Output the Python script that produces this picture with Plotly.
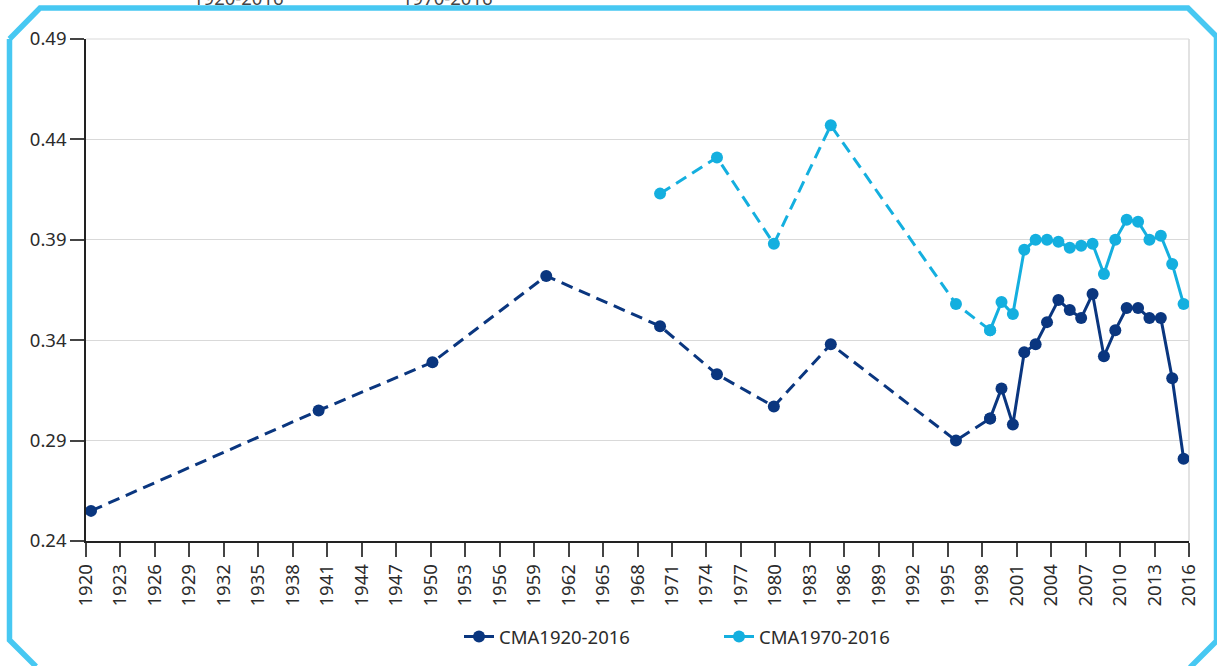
import numpy as np
import plotly.graph_objects as go

# ---- data ----
years_dark = [1920, 1940, 1950, 1960, 1970, 1975, 1980, 1985, 1996, 1999, 2000, 2001, 2002,
              2003, 2004, 2005, 2006, 2007, 2008, 2009, 2010, 2011, 2012, 2013, 2014, 2015, 2016]
cma_1920_2016 = [0.255, 0.305, 0.329, 0.372, 0.347, 0.323, 0.307, 0.338, 0.290, 0.301, 0.316,
                 0.298, 0.334, 0.338, 0.349, 0.360, 0.355, 0.351, 0.363, 0.332, 0.345, 0.356,
                 0.356, 0.351, 0.351, 0.321, 0.281]
years_light = [1970, 1975, 1980, 1985, 1996, 1999, 2000, 2001, 2002, 2003, 2004, 2005, 2006,
               2007, 2008, 2009, 2010, 2011, 2012, 2013, 2014, 2015, 2016]
cma_1970_2016 = [0.413, 0.431, 0.388, 0.447, 0.358, 0.345, 0.359, 0.353, 0.385, 0.390, 0.390,
                 0.389, 0.386, 0.387, 0.388, 0.373, 0.390, 0.400, 0.399, 0.390, 0.392, 0.378,
                 0.358]
series_names = ["CMA1920-2016", "CMA1970-2016"]
# first year of the annual (solid) part of each series
annual_start = 1999

x_tick_labels = ["1920", "1923", "1926", "1929", "1932", "1935", "1938", "1941", "1944", "1947",
                 "1950", "1953", "1956", "1959", "1962", "1965", "1968", "1971", "1974", "1977",
                 "1980", "1983", "1986", "1989", "1992", "1995", "1998", "2001", "2004", "2007",
                 "2010", "2013", "2016"]
x_range = [1919.56, 2016.475]
y_range = [0.24, 0.49]
top_labels = ["1920-2016", "1970-2016"]

# ---- style ----
DARK = "#0A367F"
LIGHT = "#14AFDF"
FRAME = "#47C8F2"
FONT = "Noto Sans"
TXT = "#2b2b2b"
FS = 18.5

W, H = 1217, 666
ML, MR, MT, MB = 86, 28, 39, 125
PW, PH = W - ML - MR, H - MT - MB


def px(x):
    return (x - ML) / PW


def py(y):
    return (H - MB - y) / PH


fig = go.Figure()


def add_series(years, vals, name, color):
    k = years.index(annual_start)
    fig.add_trace(go.Scatter(
        x=years[:k + 1], y=vals[:k + 1], mode="lines+markers", name=name,
        legendgroup=name, showlegend=True,
        line=dict(color=color, width=3, dash="12px,7px"),
        marker=dict(color=color, size=12, line=dict(width=0)),
    ))
    fig.add_trace(go.Scatter(
        x=years[k:], y=vals[k:], mode="lines+markers", name=name,
        legendgroup=name, showlegend=False,
        line=dict(color=color, width=3),
        marker=dict(color=color, size=12, line=dict(width=0)),
    ))


add_series(years_dark, cma_1920_2016, series_names[0], DARK)
add_series(years_light, cma_1970_2016, series_names[1], LIGHT)

tickvals = list(np.linspace(x_range[0], x_range[1], len(x_tick_labels)))

fig.update_xaxes(
    range=x_range, tickmode="array", tickvals=tickvals, ticktext=x_tick_labels,
    tickangle=-90, ticks="outside", ticklen=14, tickwidth=1.5, tickcolor="#444",
    showline=True, linecolor="#222", linewidth=1.5, showgrid=False, zeroline=False,
    tickfont=dict(family=FONT, size=FS, color=TXT), automargin=False,
)
fig.update_yaxes(
    range=y_range, tick0=0.24, dtick=0.05, tickformat=".2f",
    ticks="outside", ticklen=14, tickwidth=1.5, tickcolor="#444",
    showline=True, linecolor="#222", linewidth=1.5,
    showgrid=True, gridcolor="#d9d9d9", gridwidth=1, zeroline=False,
    tickfont=dict(family=FONT, size=FS, color=TXT), automargin=False,
)

frame_pts = [(9.5, 39), (40, 8), (1188, 8), (1216.5, 36.5), (1216.5, 641), (1190, 667.5)]
frame_left = [(36, 666.5), (9.5, 640), (9.5, 39)]
path1 = "M " + " L ".join(f"{px(a):.5f},{py(b):.5f}" for a, b in frame_pts)
path2 = "M " + " L ".join(f"{px(a):.5f},{py(b):.5f}" for a, b in frame_left)

shapes = [
    dict(type="path", xref="paper", yref="paper", path=path1,
         line=dict(color=FRAME, width=5.5), layer="above"),
    dict(type="path", xref="paper", yref="paper", path=path2,
         line=dict(color=FRAME, width=5.5), layer="above"),
    dict(type="line", xref="paper", yref="paper", x0=1, x1=1, y0=0, y1=1,
         line=dict(color="#d9d9d9", width=1.5), layer="below"),
    dict(type="line", xref="paper", yref="paper", x0=0, x1=1, y0=1, y1=1,
         line=dict(color="#d9d9d9", width=1), layer="below"),
]

annotations = [
    dict(text=top_labels[0], xref="paper", yref="paper", x=px(238), y=py(-2.5),
         xanchor="center", yanchor="middle", showarrow=False,
         font=dict(family=FONT, size=FS, color="#444")),
    dict(text=top_labels[1], xref="paper", yref="paper", x=px(447), y=py(-2.5),
         xanchor="center", yanchor="middle", showarrow=False,
         font=dict(family=FONT, size=FS, color="#444")),
]

fig.update_layout(
    width=W, height=H, autosize=False,
    margin=dict(l=ML, r=MR, t=MT, b=MB, pad=0, autoexpand=False),
    paper_bgcolor="white", plot_bgcolor="white",
    showlegend=True,
    legend=dict(orientation="h", x=px(459), y=py(618), xanchor="left", yanchor="top",
                xref="paper", yref="paper", entrywidth=215, entrywidthmode="pixels",
                font=dict(family=FONT, size=FS, color=TXT), bgcolor="rgba(0,0,0,0)"),
    shapes=shapes, annotations=annotations,
    font=dict(family=FONT, color=TXT),
)

fig.write_html(
    "out.html",
    config={"displayModeBar": False},
    post_script="document.documentElement.style.margin='0';"
                "document.body.style.margin='0';document.body.style.padding='0';"
                "document.body.style.overflow='hidden';",
)
